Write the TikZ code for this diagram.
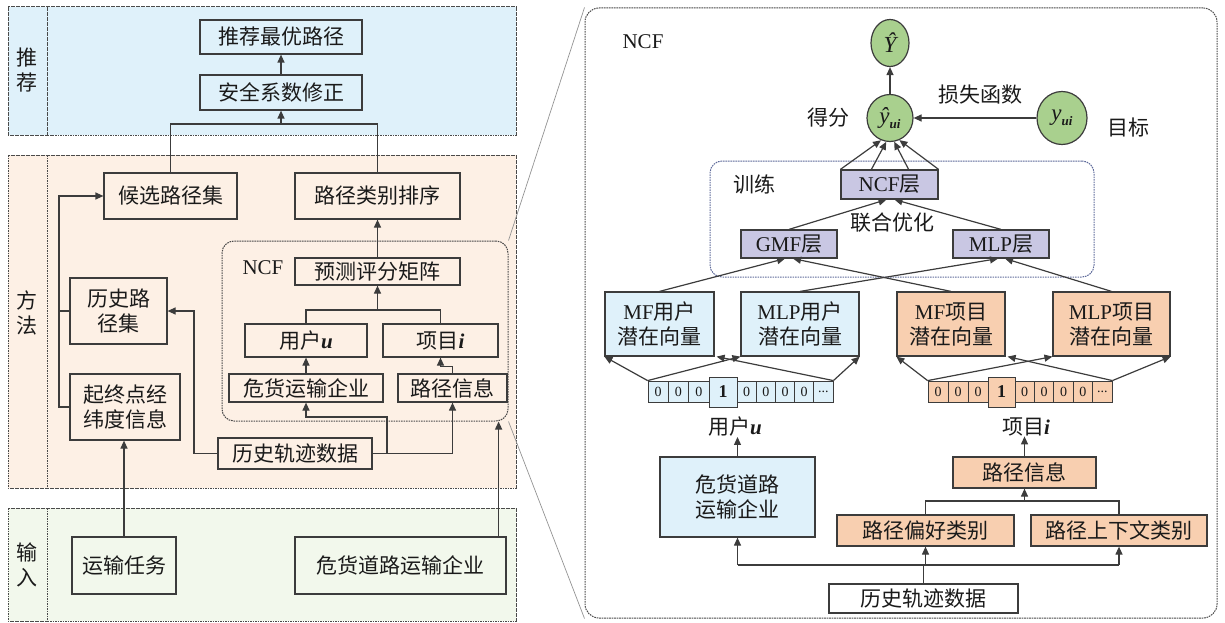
\documentclass[tikz,border=0pt]{standalone}
\usepackage{fontspec}
\setmainfont{Liberation Serif}
\newfontfamily\zh{Noto Sans CJK SC}
\usetikzlibrary{arrows.meta,calc,shapes.geometric}
\definecolor{lc}{HTML}{3C3C3C}
\definecolor{dg}{HTML}{4A4A4A}
\definecolor{txt}{HTML}{1A1A1A}
\definecolor{recf}{HTML}{DFF1FA}
\definecolor{metf}{HTML}{FDF0E5}
\definecolor{inpf}{HTML}{F2F8EC}
\definecolor{bluef}{HTML}{DFF1FA}
\definecolor{orf}{HTML}{F8CFB0}
\definecolor{grf}{HTML}{A9D08E}
\definecolor{lavf}{HTML}{C9C7E3}
\definecolor{trc}{HTML}{5E6A9A}
\newcommand\myfs{\fontsize{21}{25}\selectfont}
\begin{document}
\begin{tikzpicture}[x=1pt,y=-1pt,
  every node/.style={text=txt},
  box/.style={draw=lc, line width=1.2pt, inner sep=0pt, align=center, font=\myfs},
  sz/.style 2 args={minimum width=#1pt, minimum height=#2pt},
  lbl/.style={inner sep=0pt, align=center, font=\myfs},
  arr/.style={draw=lc, line width=1.2pt, -{Triangle[length=8pt,width=7pt]}},
  ln/.style={draw=lc, line width=1.2pt},
  band/.style={draw=dg, line width=1pt, dash pattern=on 1.6pt off 0.9pt},
  ell/.style={ellipse, draw=lc, line width=1.2pt, fill=grf, inner sep=0pt, font=\fontsize{23}{23}\selectfont},
  cell/.style={draw=lc, line width=0.8pt, inner sep=0pt, minimum height=21pt, font=\fontsize{14}{14}\selectfont},
  bigcell/.style={draw=lc, line width=0.9pt, inner sep=0pt, minimum width=28pt, minimum height=30pt, font=\fontsize{18}{18}\selectfont\bfseries},
  gline/.style={draw=gray!85, line width=0.7pt}
]
\useasboundingbox (0,0) rectangle (1225,623);

% ---------- left bands ----------
\draw[band, fill=recf] (8,7) rectangle (516,135);
\draw[band] (47,7) -- (47,135);
\draw[band, fill=metf] (8,155) rectangle (516,488);
\draw[band] (47,155) -- (47,488);
\draw[band, fill=inpf] (8,508) rectangle (516,621);
\draw[band] (47,508) -- (47,621);

\node[lbl] (Lrec) at (27,70.5) {\zh 推\\\zh 荐};
\node[lbl] (Lmet) at (27,312.5) {\zh 方\\\zh 法};
\node[lbl] (Linp) at (27,565) {\zh 输\\\zh 入};

% NCF inner dashed box
\node[draw=dg, line width=1pt, dash pattern=on 1.6pt off 0.9pt, rounded corners=12pt, inner sep=0pt, sz={286}{180}] (ncfL) at (365,331) {};
\node[lbl] (ncfLlab) at (263,268) {NCF};

% ---------- left nodes ----------
\node[box, sz={162}{34}] (rec1) at (281,37) {\zh 推荐最优路径};
\node[box, sz={162}{35}] (rec2) at (281,92.5) {\zh 安全系数修正};
\node[box, sz={133}{46}] (cand) at (170.5,196) {\zh 候选路径集};
\node[box, sz={165}{46}] (rank) at (377.5,196) {\zh 路径类别排序};
\node[box, sz={165}{27}] (pred) at (377.5,271.5) {\zh 预测评分矩阵};
\node[box, sz={122}{33}] (useru) at (306,340.5) {{\zh 用户}\textbf{\textit{u}}};
\node[box, sz={115}{33}] (itemi) at (440.5,340.5) {{\zh 项目}\textbf{\textit{i}}};
\node[box, sz={154}{28}] (ent) at (306,388) {\zh 危货运输企业};
\node[box, sz={109}{28}] (rinfo) at (452.5,388) {\zh 路径信息};
\node[box, sz={97}{66}] (hist) at (118.5,311) {\zh 历史路\\\zh 径集};
\node[box, sz={110}{66}] (od) at (125,407) {\zh 起终点经\\\zh 纬度信息};
\node[box, sz={154}{31}] (traj) at (295,453.5) {\zh 历史轨迹数据};
\node[box, sz={104}{57}] (task) at (124,565.5) {\zh 运输任务};
\node[box, sz={211}{57}] (entin) at (400.5,565.5) {\zh 危货道路运输企业};

% ---------- left connectors ----------
\draw[arr] (rec2) -- (rec1);
\coordinate (j1) at (281,124);
\draw[ln] (cand.north) |- (j1) -| (rank.north);
\draw[arr] (j1) -- (rec2.south);
\draw[arr] (pred) -- (rank);
\coordinate (j2) at (377.5,310);
\draw[ln] (useru.north) |- (j2) -| (itemi.north);
\draw[arr] (j2) -- (pred.south);
\draw[arr] (ent) -- (useru);
\draw[arr] (rinfo.north) -- ++(0,-7) -| (itemi.south);
\draw[arr] (traj.east) -| (rinfo.south);
\coordinate (t1) at (387,453.5);
\draw[arr] (t1) -- ++(0,-36.5) -| (ent.south);
\coordinate (hx) at (194,311);
\draw[arr] (traj.west) -| (hx) -- (hist.east);
\coordinate (lx) at (59,196);
\draw[arr] (od.west) -| (lx) -- (cand.west);
\draw[ln] (hist.west) -- (hist.west -| lx);
\draw[arr] (task.north) -- (task.north |- od.south);
\coordinate (ein) at ($(entin.north east)+(-8,0)$);
\draw[arr] (ein) -- (ein |- ncfL.south);

% ---------- right panel ----------
\node[draw=dg, line width=1pt, dash pattern=on 1.6pt off 0.9pt, rounded corners=14pt, inner sep=0pt, sz={632}{610}] (rp) at (901,313) {};
\draw[gline] (ncfL.north east) -- (rp.north west);
\draw[gline] (ncfL.south east) -- (rp.south west);

\node[lbl] (ncfRlab) at (643,42) {NCF};

% training box
\node[draw=trc, line width=1pt, dash pattern=on 1.6pt off 0.9pt, rounded corners=12pt, inner sep=0pt, sz={384}{116}] (train) at (902,219) {};
\node[lbl] (trlab) at (754,184) {\zh 训练};
\node[lbl] (joint) at (892,223) {\zh 联合优化};

\node[ell, sz={38}{47}] (Yh) at (890,43) {\itshape Ŷ};
\node[ell, sz={46}{47}] (yh) at (890,118) {{\itshape ŷ}\raisebox{-5pt}{\fontsize{13}{13}\selectfont\itshape\bfseries ui}};
\node[ell, sz={50}{53}] (yui) at (1062,118) {{\itshape y}\raisebox{-5pt}{\fontsize{13}{13}\selectfont\itshape\bfseries ui}};
\node[lbl] (score) at (828,118) {\zh 得分};
\node[lbl] (loss) at (980,95) {\zh 损失函数};
\node[lbl] (target) at (1128,128) {\zh 目标};

\node[box, fill=lavf, sz={97}{29}] (ncf) at (889.5,184.5) {NCF{\zh 层}};
\node[box, fill=lavf, sz={96}{28}] (gmf) at (789,244) {GMF{\zh 层}};
\node[box, fill=lavf, sz={96}{28}] (mlp) at (1001,244) {MLP{\zh 层}};

\node[box, fill=bluef, sz={109}{64}] (mfu) at (659.5,324) {MF{\zh 用户}\\\zh 潜在向量};
\node[box, fill=bluef, sz={118}{64}] (mlpu) at (800,324) {MLP{\zh 用户}\\\zh 潜在向量};
\node[box, fill=orf, sz={108}{64}] (mfi) at (951,324) {MF{\zh 项目}\\\zh 潜在向量};
\node[box, fill=orf, sz={117}{64}] (mlpi) at (1111.5,324) {MLP{\zh 项目}\\\zh 潜在向量};

% user one-hot vector
\foreach \i/\cx in {1/658.15,2/678.45,3/698.75}
  \node[cell, fill=bluef, minimum width=20.3pt] (u\i) at (\cx,391.5) {0};
\node[bigcell, fill=bluef] (u4) at (723,392) {1};
\foreach \i/\cx in {5/746.6,6/765.8,7/785,8/804.2}
  \node[cell, fill=bluef, minimum width=19.2pt] (u\i) at (\cx,391.5) {0};
\node[cell, fill=bluef, minimum width=19.2pt] (u9) at (823.4,391.5) {...};

% item one-hot vector
\foreach \i/\cx in {1/938,2/958,3/978}
  \node[cell, fill=orf, minimum width=20pt] (v\i) at (\cx,391.5) {0};
\node[bigcell, fill=orf, minimum width=27pt] (v4) at (1001.5,392) {1};
\foreach \i/\cx in {5/1024.7,6/1044.1,7/1063.5,8/1082.9}
  \node[cell, fill=orf, minimum width=19.4pt] (v\i) at (\cx,391.5) {0};
\node[cell, fill=orf, minimum width=19.4pt] (v9) at (1102.3,391.5) {...};

\node[lbl] (ulab) at (735,427) {{\zh 用户}\textbf{\textit{u}}};
\node[lbl] (ilab) at (1026,427) {{\zh 项目}\textbf{\textit{i}}};

\node[box, fill=bluef, sz={155}{80}] (entR) at (737.5,497) {\zh 危货道路\\\zh 运输企业};
\node[box, fill=orf, sz={143}{31}] (rinfoR) at (1024.5,472.5) {\zh 路径信息};
\node[box, fill=orf, sz={177}{31}] (pref) at (925.5,530.5) {\zh 路径偏好类别};
\node[box, fill=orf, sz={176}{31}] (ctx) at (1119,530.5) {\zh 路径上下文类别};
\node[box, fill=white, sz={189}{29}] (trajR) at (923.5,598.5) {\zh 历史轨迹数据};

% ---------- right connectors ----------
\draw[arr] (yh) -- (Yh);
\draw[arr] (yui) -- (yh);
\draw[arr] (ncf.north west) -- (yh.248);
\draw[arr] ([xshift=31pt]ncf.north west) -- (yh.261);
\draw[arr] ([xshift=-30pt]ncf.north east) -- (yh.280);
\draw[arr] (ncf.north east) -- (yh.293);
\draw[arr] (gmf.north) -- ([xshift=-3pt]ncf.south);
\draw[arr] (mlp.north) -- ([xshift=5pt]ncf.south);
\draw[arr] (mfu.north) -- ([xshift=-4pt]gmf.south);
\draw[arr] (mfi.north) -- ([xshift=4pt]gmf.south);
\draw[arr] (mlpu.north) -- ([xshift=-3pt]mlp.south);
\draw[arr] (mlpi.north) -- ([xshift=4pt]mlp.south);

\draw[arr] (u1.north west) -- (mfu.south west);
\draw[arr] (u1.north west) -- (mlpu.south west);
\draw[arr] (u9.north east) -- (mlpu.south east);
\draw[arr] (u9.north east) -- ([xshift=2pt]mfu.south east);
\draw[arr] (v1.north west) -- (mfi.south west);
\draw[arr] (v1.north west) -- (mlpi.south west);
\draw[arr] (v9.north east) -- (mlpi.south east);
\draw[arr] (v9.north east) -- ([xshift=2pt]mfi.south east);

\draw[arr] (entR.north) -- (entR.north |- ulab.south);
\draw[arr] (rinfoR.north) -- (rinfoR.north |- ilab.south);
\coordinate (j3) at (1024.5,501);
\draw[ln] (pref.north) |- (j3) -| (ctx.north);
\draw[arr] (j3) -- (rinfoR.south);
\coordinate (j4) at (923.5,565);
\draw[ln] (trajR.north) -- (j4);
\draw[ln] (entR.south |- j4) -- (ctx.south |- j4);
\draw[arr] (entR.south |- j4) -- (entR.south);
\draw[arr] (pref.south |- j4) -- (pref.south);
\draw[arr] (ctx.south |- j4) -- (ctx.south);
\end{tikzpicture}
\end{document}
